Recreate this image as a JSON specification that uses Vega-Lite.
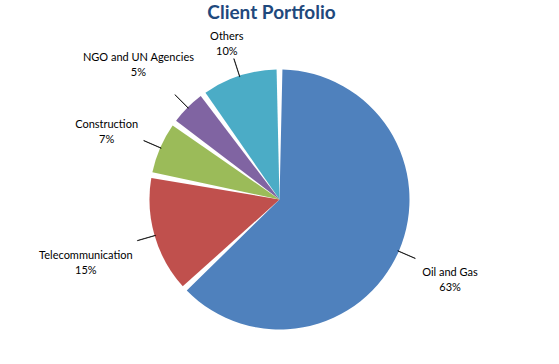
{
  "$schema": "https://vega.github.io/schema/vega-lite/v6.json",
  "width": 559,
  "height": 364,
  "autosize": {"type": "fit", "contains": "padding"},
  "padding": {"top": 8, "left": 0, "right": 0, "bottom": 0},
  "background": "#ffffff",
  "title": {
    "text": "Client Portfolio",
    "font": "Lato",
    "fontSize": 19,
    "fontWeight": "bold",
    "color": "#1F497D",
    "anchor": "middle",
    "baseline": "top",
    "dx": -8,
    "offset": 8
  },
  "data": {
    "values": [
      {"category": "Oil and Gas", "value": 63},
      {"category": "Telecommunication", "value": 15},
      {"category": "Construction", "value": 7},
      {"category": "NGO and UN Agencies", "value": 5},
      {"category": "Others", "value": 10}
    ]
  },
  "transform": [
    {"window": [{"op": "sum", "field": "value", "as": "cum"}], "frame": [null, 0]},
    {"joinaggregate": [{"op": "sum", "field": "value", "as": "total"}]},
    {"calculate": "(datum.cum - datum.value) / datum.total * 2 * PI", "as": "t0"},
    {"calculate": "datum.cum / datum.total * 2 * PI", "as": "t1"},
    {"calculate": "(datum.t0 + datum.t1) / 2", "as": "mid"},
    {"calculate": "datum.mid + 0.002", "as": "mid2"},
    {"calculate": "datum.category + '\\n' + datum.value + '%'", "as": "label"},
    {"calculate": "152 + 0.5 * length(datum.category) * 5.6 * abs(sin(datum.mid)) + 14 * abs(cos(datum.mid))", "as": "lr"}
  ],
  "layer": [
    {
      "mark": {"type": "arc", "radius": 130, "padAngle": 0.045},
      "encoding": {
        "theta": {"field": "t0", "type": "quantitative", "scale": null},
        "theta2": {"field": "t1"},
        "color": {
          "field": "category",
          "type": "nominal",
          "scale": {
            "domain": ["Oil and Gas", "Telecommunication", "Construction", "NGO and UN Agencies", "Others"],
            "range": ["#4F81BD", "#C0504D", "#9BBB59", "#8064A2", "#4BACC6"]
          },
          "legend": null
        }
      }
    },
    {
      "mark": {"type": "arc", "radius": 148, "radius2": 129, "fill": "#000000", "stroke": "#000000", "strokeWidth": 0.6},
      "encoding": {
        "theta": {"field": "mid", "type": "quantitative", "scale": null},
        "theta2": {"field": "mid2"}
      }
    },
    {
      "mark": {"type": "text", "font": "Lato", "fontSize": 11, "lineBreak": "\n", "lineHeight": 15, "align": "center", "baseline": "middle", "color": "#000000"},
      "encoding": {
        "theta": {"field": "mid", "type": "quantitative", "scale": null},
        "radius": {"field": "lr", "type": "quantitative", "scale": null},
        "text": {"field": "label"}
      }
    }
  ],
  "config": {"view": {"stroke": null}}
}
